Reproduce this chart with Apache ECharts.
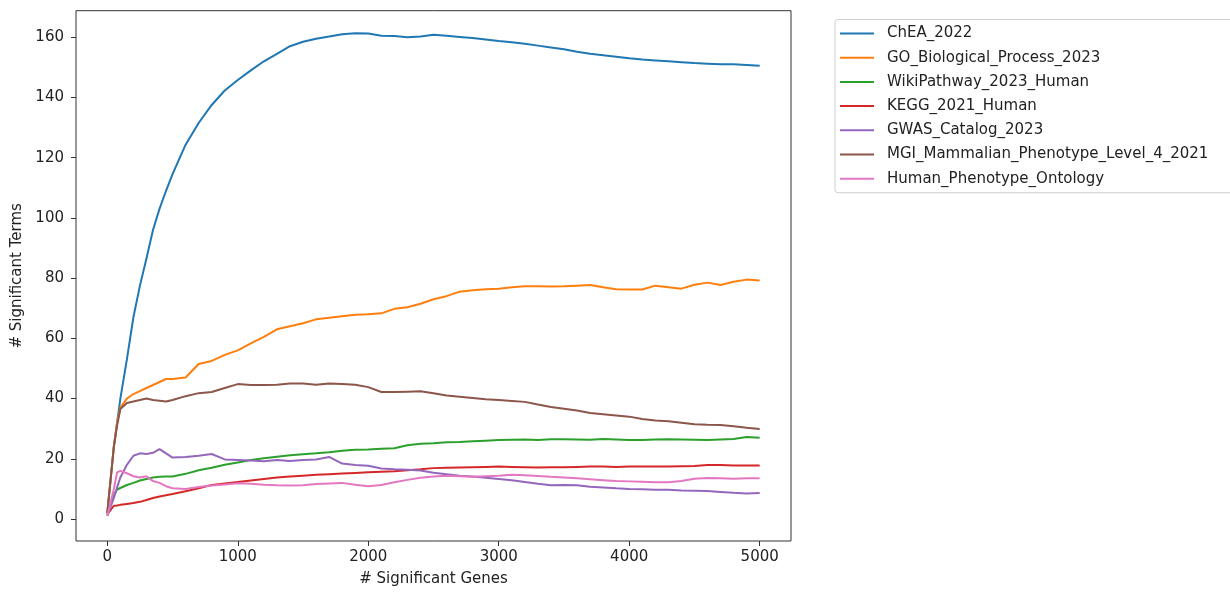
<!DOCTYPE html>
<html>
<head>
<meta charset="utf-8">
<script src="https://cdn.jsdelivr.net/npm/echarts@6/dist/echarts.min.js"></script>
<style>
html,body{margin:0;padding:0;background:#fff;}
#chart{width:1230px;height:592px;}
</style>
</head>
<body>
<div id="chart"></div>
<script>
// Number of significant genes (x)
const genes = [0,50,75,100,150,200,250,300,350,400,450,500,
  600,700,800,900,1000,1100,1200,1300,1400,1500,
  1600,1700,1800,1900,2000,2100,2200,2300,2400,2500,
  2600,2700,2800,2900,3000,3100,3200,3300,3400,3500,
  3600,3700,3800,3900,4000,4100,4200,4300,4400,4500,
  4600,4700,4800,4900,5000];

const seriesNames = ['ChEA_2022','GO_Biological_Process_2023','WikiPathway_2023_Human','KEGG_2021_Human','GWAS_Catalog_2023','MGI_Mammalian_Phenotype_Level_4_2021','Human_Phenotype_Ontology'];

const chea = [2,24,32,40,53,67,77.5,86.5,96,103,109,114.5,
  124.3,131.5,137.5,142.3,145.8,149,152,154.5,157,158.5,
  159.5,160.2,161,161.3,161.2,160.5,160.4,160,160.2,160.8,
  160.5,160.1,159.7,159.2,158.7,158.3,157.8,157.2,156.6,156,
  155.2,154.5,154,153.5,153,152.6,152.3,152,151.7,151.4,
  151.2,151,151,150.8,150.5];
const goBP = [2,24,32,37,40,41.5,42.5,43.5,44.5,45.5,46.5,46.5,
  47,51.5,52.5,54.5,56,58.3,60.5,63,64,65,
  66.3,66.8,67.3,67.8,68,68.3,69.8,70.3,71.5,73,
  74,75.5,76,76.3,76.5,77,77.3,77.3,77.2,77.3,
  77.5,77.7,77,76.3,76.2,76.2,77.5,77,76.5,77.8,
  78.5,77.7,78.8,79.5,79.2];
const wiki = [1.5,8,9.8,10.3,11.3,12,12.8,13.3,13.8,14,14.1,14.1,
  15,16.2,17,18,18.8,19.6,20.2,20.7,21.2,21.5,
  21.8,22.2,22.7,23,23.1,23.3,23.5,24.5,25,25.2,
  25.5,25.6,25.8,26,26.2,26.3,26.4,26.2,26.5,26.5,
  26.4,26.3,26.6,26.4,26.2,26.2,26.4,26.5,26.4,26.3,
  26.2,26.4,26.6,27.2,27];
const kegg = [1.5,4.4,4.5,4.7,5,5.3,5.7,6.3,7,7.5,7.9,8.3,
  9.2,10.2,11.3,11.8,12.3,12.8,13.3,13.8,14.1,14.4,
  14.7,14.9,15.1,15.3,15.5,15.7,15.9,16.2,16.5,16.9,
  17,17.1,17.2,17.3,17.4,17.3,17.2,17.1,17.2,17.2,
  17.3,17.4,17.4,17.3,17.4,17.4,17.4,17.4,17.5,17.6,
  17.9,17.9,17.8,17.8,17.8];
const gwas = [1,7,10.5,13.8,18,21,21.8,21.6,22,23.2,21.8,20.4,
  20.6,21,21.6,19.8,19.6,19.4,19.2,19.6,19.3,19.6,
  19.8,20.6,18.4,17.9,17.7,16.8,16.5,16.4,16.1,15.4,
  14.9,14.4,14.1,13.7,13.3,12.9,12.3,11.7,11.2,11.3,
  11.2,10.7,10.5,10.2,10,9.9,9.7,9.7,9.5,9.4,
  9.3,9,8.7,8.5,8.6];
const mgi = [2,24,31,36.5,38.5,39,39.5,40,39.5,39.3,39,39.5,
  40.8,41.8,42.2,43.5,44.8,44.5,44.5,44.6,45,45,
  44.6,45,44.8,44.6,43.8,42.2,42.2,42.3,42.4,41.8,
  41,40.6,40.2,39.8,39.5,39.2,38.9,38,37.2,36.6,
  36,35.2,34.8,34.4,34,33.2,32.7,32.5,32,31.5,
  31.3,31.2,30.8,30.3,29.9];
const hpo = [1,10,15.5,16,15.2,14.2,13.8,14.2,12.6,12,10.9,10.2,
  10,10.6,11.1,11.5,11.9,11.7,11.4,11.2,11.1,11.2,
  11.6,11.8,12,11.4,10.9,11.3,12.2,13,13.7,14.1,
  14.4,14.2,14,14.2,14.4,14.7,14.5,14.3,14,13.8,
  13.5,13.2,12.9,12.6,12.5,12.4,12.2,12.2,12.6,13.4,
  13.6,13.5,13.4,13.5,13.5];

const xTicks = [0,1000,2000,3000,4000,5000];
const yTicks = [0,20,40,60,80,100,120,140,160];

const colors = ['#1f77b4','#ff7f0e','#2ca02c','#d62728','#9467bd','#8c564b','#e377c2'];
const allValues = [chea, goBP, wiki, kegg, gwas, mgi, hpo];

const FONT = 'DejaVu Sans';
const TXT = '#222';

const chart = echarts.init(document.getElementById('chart'), null, {renderer:'canvas'});
chart.setOption({
  animation: false,
  backgroundColor: '#fff',
  grid: {left: 76, top: 10.7, right: 439, bottom: 48.7, show: true, borderColor: '#333', borderWidth: 1, backgroundColor: 'transparent'},
  legend: {
    orient: 'vertical', left: 835, top: 19.5,
    padding: [6, 40, 6, 4],
    itemWidth: 34, itemHeight: 16, itemGap: 8.2,
    borderColor: '#d0d0d0', borderWidth: 1, borderRadius: 3,
    backgroundColor: '#fff',
    itemStyle: {opacity: 0},
    lineStyle: {width: 2},
    textStyle: {fontFamily: FONT, fontSize: 15, color: TXT, lineHeight: 16, padding: [0,0,0,8]},
    data: seriesNames
  },
  xAxis: {
    type: 'value', min: -240, max: 5240,
    name: '# Significant Genes', nameLocation: 'middle', nameGap: 31,
    nameTextStyle: {fontFamily: FONT, fontSize: 15, color: TXT},
    axisLine: {show: false, onZero: false},
    axisTick: {show: true, length: 5, inside: false, customValues: xTicks, lineStyle: {color: '#333'}},
    axisLabel: {customValues: xTicks, fontFamily: FONT, fontSize: 15, color: TXT, margin: 9,
      formatter: v => String(v)},
    splitLine: {show: false}
  },
  yAxis: {
    type: 'value', min: -7.3, max: 168.8,
    name: '# Significant Terms', nameLocation: 'middle', nameGap: 50,
    nameTextStyle: {fontFamily: FONT, fontSize: 15, color: TXT},
    axisLine: {show: false, onZero: false},
    axisTick: {show: true, length: 5, inside: false, customValues: yTicks, lineStyle: {color: '#333'}},
    axisLabel: {customValues: yTicks, fontFamily: FONT, fontSize: 15, color: TXT, margin: 12,
      formatter: v => String(v)},
    splitLine: {show: false}
  },
  series: seriesNames.map((n, i) => ({
    name: n, type: 'line', symbol: 'none', showSymbol: false,
    color: colors[i],
    lineStyle: {width: 2, color: colors[i]},
    data: genes.map((g, j) => [g, allValues[i][j]])
  }))
});
</script>
</body>
</html>
